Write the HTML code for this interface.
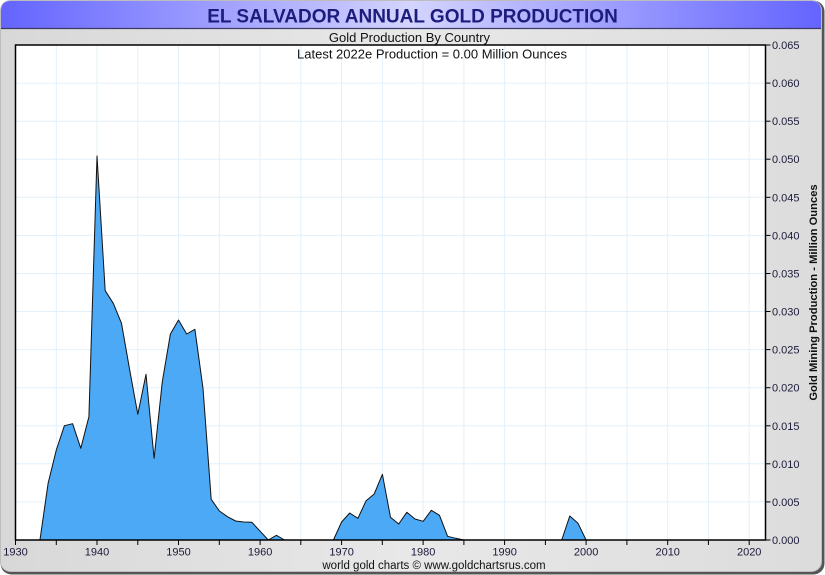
<!DOCTYPE html>
<html><head><meta charset="utf-8"><style>
html,body{margin:0;padding:0;background:#fff;width:825px;height:575px;overflow:hidden}
svg{display:block}
text{font-family:"Liberation Sans",Arial,sans-serif}
</style></head><body>
<svg width="825" height="575" viewBox="0 0 825 575" xmlns="http://www.w3.org/2000/svg">
<defs>
<linearGradient id="tb" x1="0" y1="0" x2="1" y2="0">
<stop offset="0" stop-color="#6464ff"/><stop offset="0.5" stop-color="#d4d4ff"/><stop offset="1" stop-color="#6464ff"/>
</linearGradient>
<linearGradient id="pb" x1="0" y1="0" x2="1" y2="0">
<stop offset="0" stop-color="#d8d8d8"/><stop offset="0.5" stop-color="#e8e8e8"/><stop offset="1" stop-color="#dcdcdc"/>
</linearGradient>
</defs>
<rect x="0.5" y="0.5" width="824" height="574" rx="11" fill="#555"/>
<rect x="0.5" y="0.5" width="821" height="571" rx="10" fill="url(#pb)" stroke="#bdbdbd" stroke-width="1"/>
<path d="M1,28 L1,11 Q1,1 11,1 L811,1 Q821,1 821,11 L821,28 Z" fill="url(#tb)"/>
<line x1="1" y1="28.5" x2="821" y2="28.5" stroke="#3a3a66" stroke-width="1.2"/>
<text x="412.5" y="22.5" text-anchor="middle" font-size="19" font-weight="bold" fill="#1c1c7c">EL SALVADOR ANNUAL GOLD PRODUCTION</text>
<text x="409.5" y="42" text-anchor="middle" font-size="13" fill="#111">Gold Production By Country</text>
<rect x="15.5" y="45" width="750" height="495" fill="#fff"/>
<g stroke="#e3f0fa" stroke-width="1">
<line x1="56.3" y1="45" x2="56.3" y2="540"/><line x1="97.0" y1="45" x2="97.0" y2="540"/>
<line x1="137.8" y1="45" x2="137.8" y2="540"/><line x1="178.5" y1="45" x2="178.5" y2="540"/>
<line x1="219.3" y1="45" x2="219.3" y2="540"/><line x1="260.1" y1="45" x2="260.1" y2="540"/>
<line x1="300.8" y1="45" x2="300.8" y2="540"/><line x1="341.6" y1="45" x2="341.6" y2="540"/>
<line x1="382.3" y1="45" x2="382.3" y2="540"/><line x1="423.1" y1="45" x2="423.1" y2="540"/>
<line x1="463.9" y1="45" x2="463.9" y2="540"/><line x1="504.6" y1="45" x2="504.6" y2="540"/>
<line x1="545.4" y1="45" x2="545.4" y2="540"/><line x1="586.1" y1="45" x2="586.1" y2="540"/>
<line x1="626.9" y1="45" x2="626.9" y2="540"/><line x1="667.7" y1="45" x2="667.7" y2="540"/>
<line x1="708.4" y1="45" x2="708.4" y2="540"/><line x1="749.2" y1="45" x2="749.2" y2="540"/>
<line x1="15.5" y1="501.9" x2="765.5" y2="501.9"/><line x1="15.5" y1="463.8" x2="765.5" y2="463.8"/>
<line x1="15.5" y1="425.8" x2="765.5" y2="425.8"/><line x1="15.5" y1="387.7" x2="765.5" y2="387.7"/>
<line x1="15.5" y1="349.6" x2="765.5" y2="349.6"/><line x1="15.5" y1="311.5" x2="765.5" y2="311.5"/>
<line x1="15.5" y1="273.5" x2="765.5" y2="273.5"/><line x1="15.5" y1="235.4" x2="765.5" y2="235.4"/>
<line x1="15.5" y1="197.3" x2="765.5" y2="197.3"/><line x1="15.5" y1="159.2" x2="765.5" y2="159.2"/>
<line x1="15.5" y1="121.2" x2="765.5" y2="121.2"/><line x1="15.5" y1="83.1" x2="765.5" y2="83.1"/>
</g>
<text x="432" y="58.5" text-anchor="middle" font-size="13" fill="#111">Latest 2022e Production = 0.00 Million Ounces</text>
<path fill="#4ca9f6" stroke="#111" stroke-width="1" stroke-linejoin="round" d="M15.5,540 L39.96,540 L48.1,483.3 L56.3,450 L64.4,425.7 L72.6,423.7 L80.8,448.3 L88.9,416.7 L97.0,156 L105.2,290.7 L113.3,303.3 L121.5,323.3 L129.7,370 L137.8,414.3 L146.0,374.3 L154.1,458.3 L162.3,381.7 L170.4,334 L178.5,320 L186.7,334 L194.9,329.3 L203.0,388.3 L211.2,499.3 L219.4,511 L227.5,516.7 L235.6,521 L243.8,522 L251.9,522.3 L260.1,531.2 L268.3,540 L276.4,535.3 L284.6,540 L333.4,540 L341.6,522 L349.7,513 L357.9,518.3 L366.1,500.7 L374.2,494 L382.4,474.3 L390.5,517.3 L398.7,524 L406.8,512.3 L415.0,519 L423.2,521.3 L431.3,510.3 L439.5,515.3 L447.6,536.3 L455.8,538.3 L464.0,540 L561.7,540 L569.8,516 L578.0,523.3 L586.1,540 L765.5,540"/>
<rect x="15.5" y="45" width="750" height="495" fill="none" stroke="#000" stroke-width="1.5"/>
<g stroke="#000" stroke-width="1">
<line x1="15.5" y1="540" x2="15.5" y2="545"/><line x1="56.3" y1="540" x2="56.3" y2="545"/>
<line x1="97.0" y1="540" x2="97.0" y2="545"/><line x1="137.8" y1="540" x2="137.8" y2="545"/>
<line x1="178.5" y1="540" x2="178.5" y2="545"/><line x1="219.3" y1="540" x2="219.3" y2="545"/>
<line x1="260.1" y1="540" x2="260.1" y2="545"/><line x1="300.8" y1="540" x2="300.8" y2="545"/>
<line x1="341.6" y1="540" x2="341.6" y2="545"/><line x1="382.3" y1="540" x2="382.3" y2="545"/>
<line x1="423.1" y1="540" x2="423.1" y2="545"/><line x1="463.9" y1="540" x2="463.9" y2="545"/>
<line x1="504.6" y1="540" x2="504.6" y2="545"/><line x1="545.4" y1="540" x2="545.4" y2="545"/>
<line x1="586.1" y1="540" x2="586.1" y2="545"/><line x1="626.9" y1="540" x2="626.9" y2="545"/>
<line x1="667.7" y1="540" x2="667.7" y2="545"/><line x1="708.4" y1="540" x2="708.4" y2="545"/>
<line x1="749.2" y1="540" x2="749.2" y2="545"/>
<line x1="765.5" y1="540" x2="770.5" y2="540"/><line x1="765.5" y1="501.9" x2="770.5" y2="501.9"/>
<line x1="765.5" y1="463.8" x2="770.5" y2="463.8"/><line x1="765.5" y1="425.8" x2="770.5" y2="425.8"/>
<line x1="765.5" y1="387.7" x2="770.5" y2="387.7"/><line x1="765.5" y1="349.6" x2="770.5" y2="349.6"/>
<line x1="765.5" y1="311.5" x2="770.5" y2="311.5"/><line x1="765.5" y1="273.5" x2="770.5" y2="273.5"/>
<line x1="765.5" y1="235.4" x2="770.5" y2="235.4"/><line x1="765.5" y1="197.3" x2="770.5" y2="197.3"/>
<line x1="765.5" y1="159.2" x2="770.5" y2="159.2"/><line x1="765.5" y1="121.2" x2="770.5" y2="121.2"/>
<line x1="765.5" y1="83.1" x2="770.5" y2="83.1"/><line x1="765.5" y1="45" x2="770.5" y2="45"/>
</g>
<g font-size="11" fill="#1a1a3a" text-anchor="middle">
<text x="15.5" y="555.5">1930</text><text x="97.0" y="555.5">1940</text><text x="178.5" y="555.5">1950</text>
<text x="260.1" y="555.5">1960</text><text x="341.6" y="555.5">1970</text><text x="423.1" y="555.5">1980</text>
<text x="504.6" y="555.5">1990</text><text x="586.1" y="555.5">2000</text><text x="667.7" y="555.5">2010</text>
<text x="749.2" y="555.5">2020</text>
</g>
<g font-size="11" fill="#1a1a3a">
<text x="772" y="544">0.000</text><text x="772" y="505.9">0.005</text><text x="772" y="467.8">0.010</text>
<text x="772" y="429.8">0.015</text><text x="772" y="391.7">0.020</text><text x="772" y="353.6">0.025</text>
<text x="772" y="315.5">0.030</text><text x="772" y="277.5">0.035</text><text x="772" y="239.4">0.040</text>
<text x="772" y="201.3">0.045</text><text x="772" y="163.2">0.050</text><text x="772" y="125.2">0.055</text>
<text x="772" y="87.1">0.060</text><text x="772" y="49">0.065</text>
</g>
<text transform="translate(817,292.5) rotate(-90)" text-anchor="middle" font-size="11.2" font-weight="bold" fill="#111">Gold Mining Production - Million Ounces</text>
<text x="434" y="569" text-anchor="middle" font-size="11.5" fill="#111">world gold charts © www.goldchartsrus.com</text>
</svg>
</body></html>
